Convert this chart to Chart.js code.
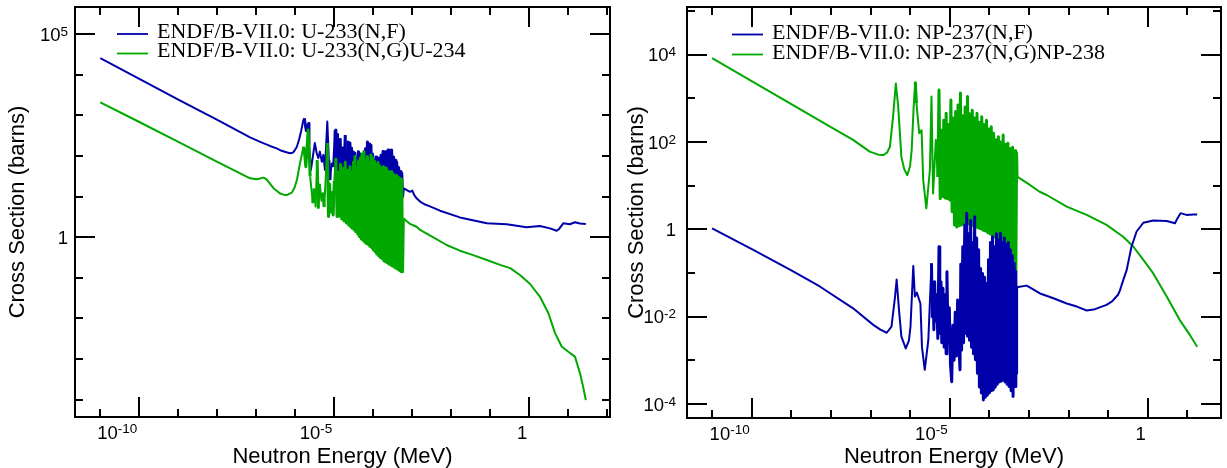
<!DOCTYPE html>
<html>
<head>
<meta charset="utf-8">
<script src="https://cdn.jsdelivr.net/npm/chart.js@4.4.1/dist/chart.umd.min.js"></script>
<style>
  html, body { margin: 0; padding: 0; background: #fff; }
  #wrap { position: relative; width: 1227px; height: 468px; }
  canvas { position: absolute; top: 0; }
</style>
</head>
<body>
<div id="wrap">
  <canvas id="u233" width="620" height="468" style="left:0"></canvas>
  <canvas id="np237" width="607" height="468" style="left:620px"></canvas>
</div>
<script>
// values, stored as [log10(E / MeV), log10(sigma / barns)]
const u233Fission = [
  [-11.00, 4.41], [-10.00, 3.90], [-9.00, 3.39], [-8.00, 2.89], [-7.16, 2.46], [-6.90, 2.35],
  [-6.65, 2.25], [-6.48, 2.19], [-6.35, 2.13], [-6.25, 2.10], [-6.14, 2.07], [-6.07, 2.08],
  [-6.03, 2.12], [-5.96, 2.23], [-5.90, 2.42],
  [-5.85, 2.62], [-5.80, 2.86], [-5.77, 2.93], [-5.74, 2.75], [-5.71, 2.60], [-5.69, 2.70],
  [-5.67, 2.81], [-5.65, 2.30], [-5.60, 1.66],
  [-5.50, 2.32], [-5.45, 2.07], [-5.41, 1.95], [-5.37, 2.11], [-5.32, 1.86], [-5.28, 2.03],
  [-5.24, 1.66], [-5.18, 2.85], [-5.14, 1.90], [-5.11, 1.41], [-5.07, 1.82], [-5.03, 1.75],
  [-4.98, 2.64], [-4.96, 1.58], [-4.92, 2.56], [-4.89, 1.49], [-4.85, 2.44], [-4.82, 1.41],
  [-4.78, 2.23], [-4.75, 1.45], [-4.72, 2.52], [-4.68, 1.40], [-4.65, 2.35], [-4.62, 1.38],
  [-4.60, 2.32], [-4.58, 1.35], [-4.56, 2.20], [-4.54, 1.38], [-4.51, 2.10], [-4.49, 1.30],
  [-4.47, 2.07], [-4.45, 1.36], [-4.42, 1.95], [-4.40, 1.28], [-4.38, 2.11], [-4.36, 1.34],
  [-4.33, 2.05], [-4.31, 1.27], [-4.29, 1.92], [-4.27, 1.33], [-4.24, 1.99], [-4.22, 1.25],
  [-4.20, 2.18], [-4.18, 1.31], [-4.15, 2.35], [-4.13, 1.22], [-4.11, 2.30], [-4.09, 1.29],
  [-4.06, 2.27], [-4.04, 1.20], [-4.02, 2.05], [-4.00, 1.26], [-3.97, 1.90], [-3.95, 1.18],
  [-3.93, 1.98], [-3.91, 1.24], [-3.88, 1.90], [-3.86, 1.15], [-3.84, 1.95], [-3.82, 1.22],
  [-3.80, 2.02], [-3.77, 1.13], [-3.75, 2.11], [-3.73, 1.19], [-3.71, 2.08], [-3.69, 1.10],
  [-3.66, 2.11], [-3.64, 1.17], [-3.62, 2.15], [-3.60, 1.08], [-3.57, 2.04], [-3.55, 1.14],
  [-3.53, 2.15], [-3.51, 1.06], [-3.48, 1.98], [-3.46, 1.12], [-3.44, 1.90], [-3.42, 1.04],
  [-3.40, 1.85], [-3.37, 1.09], [-3.35, 1.72], [-3.33, 1.02], [-3.31, 1.62], [-3.29, 1.06],
  [-3.27, 1.58], [-3.25, 1.00], [-3.23, 1.21],
  [-3.15, 1.17], [-3.06, 1.12], [-3.00, 1.15], [-2.95, 1.04], [-2.89, 0.96], [-2.80, 0.88],
  [-2.70, 0.82], [-2.55, 0.76], [-2.29, 0.655], [-1.78, 0.49], [-1.09, 0.345], [-0.58, 0.32],
  [-0.07, 0.25], [0.27, 0.28], [0.53, 0.22], [0.70, 0.16], [0.76, 0.20], [0.87, 0.345],
  [1.04, 0.32], [1.17, 0.37], [1.30, 0.34], [1.45, 0.33]
];

const u233Capture = [
  [-11.00, 3.325], [-10.00, 2.84], [-9.00, 2.35], [-8.00, 1.86], [-7.16, 1.453], [-6.99, 1.43],
  [-6.90, 1.45], [-6.82, 1.47], [-6.75, 1.44], [-6.69, 1.37], [-6.56, 1.21], [-6.39, 1.08],
  [-6.30, 1.05], [-6.22, 1.04], [-6.09, 1.10], [-6.02, 1.22], [-5.96, 1.41], [-5.88, 1.82],
  [-5.79, 2.23], [-5.76, 2.05],
  [-5.73, 1.74], [-5.70, 2.20], [-5.67, 2.64], [-5.64, 2.00], [-5.62, 1.50], [-5.55, 0.84],
  [-5.52, 1.20], [-5.48, 0.76], [-5.44, 1.90], [-5.41, 0.71], [-5.37, 1.30], [-5.33, 0.90],
  [-5.29, 1.10], [-5.26, 0.75], [-5.22, 1.45], [-5.18, 2.32], [-5.15, 0.51], [-5.12, 1.31],
  [-5.09, 0.62], [-5.06, 1.10], [-5.03, 0.55], [-5.00, 1.40], [-4.96, 1.95], [-4.93, 0.51],
  [-4.90, 1.60], [-4.87, 0.52], [-4.84, 1.80], [-4.81, 0.45], [-4.78, 1.70], [-4.75, 0.40],
  [-4.72, 1.85], [-4.69, 0.35], [-4.66, 1.65], [-4.63, 0.30],
  [-4.60, 1.74], [-4.58, 0.26], [-4.56, 1.60], [-4.54, 0.22], [-4.51, 1.85], [-4.49, 0.18],
  [-4.47, 1.99], [-4.45, 0.14], [-4.42, 1.70], [-4.40, 0.08], [-4.38, 1.88], [-4.36, 0.02],
  [-4.33, 1.95], [-4.31, -0.04], [-4.29, 2.05], [-4.27, -0.07], [-4.24, 2.11], [-4.22, -0.12],
  [-4.20, 1.90], [-4.18, -0.15], [-4.15, 1.99], [-4.13, -0.18], [-4.11, 1.85], [-4.09, -0.22],
  [-4.06, 2.03], [-4.04, -0.26], [-4.02, 1.95], [-4.00, -0.31], [-3.97, 1.88], [-3.95, -0.36],
  [-3.93, 1.80], [-3.91, -0.41], [-3.88, 1.84], [-3.86, -0.46], [-3.84, 1.76], [-3.82, -0.50],
  [-3.80, 1.70], [-3.77, -0.53], [-3.75, 1.74], [-3.73, -0.58], [-3.71, 1.66], [-3.69, -0.60],
  [-3.66, 1.70], [-3.64, -0.63], [-3.62, 1.62], [-3.60, -0.66], [-3.57, 1.58], [-3.55, -0.68],
  [-3.53, 1.62], [-3.51, -0.71], [-3.48, 1.55], [-3.46, -0.74], [-3.44, 1.50], [-3.42, -0.76],
  [-3.40, 1.53], [-3.37, -0.79], [-3.35, 1.47], [-3.33, -0.82], [-3.31, 1.44], [-3.29, -0.84],
  [-3.27, 1.42], [-3.25, -0.85], [-3.23, 0.47],
  [-3.15, 0.40], [-3.06, 0.33], [-2.89, 0.26], [-2.80, 0.18], [-2.46, 0.00], [-2.12, -0.19],
  [-1.78, -0.33], [-1.44, -0.44], [-1.09, -0.56], [-0.75, -0.68], [-0.49, -0.76], [-0.24, -0.93],
  [0.02, -1.15], [0.27, -1.46], [0.49, -1.87], [0.66, -2.36], [0.83, -2.69], [1.00, -2.82],
  [1.17, -2.94], [1.30, -3.35], [1.38, -3.68], [1.45, -4.01]
];

const np237Fission = [
  [-11.00, 0.02], [-9.96, -0.47], [-9.00, -0.94], [-8.28, -1.31], [-7.44, -1.81], [-6.93, -2.19],
  [-6.75, -2.30], [-6.59, -2.37], [-6.47, -2.23], [-6.38, -1.54], [-6.34, -1.15], [-6.28, -1.85],
  [-6.22, -2.46], [-6.11, -2.73], [-6.03, -2.55], [-5.99, -2.23], [-5.92, -0.84], [-5.88, -1.54],
  [-5.83, -1.45], [-5.74, -1.70], [-5.70, -2.70], [-5.63, -3.22], [-5.54, -2.54],
  [-5.46, -0.78], [-5.44, -2.00], [-5.42, -1.30], [-5.40, -2.30], [-5.38, -1.20], [-5.36, -2.10],
  [-5.33, -1.50], [-5.30, -2.50], [-5.27, -0.40], [-5.25, -2.38], [-5.22, -1.20], [-5.20, -2.60],
  [-5.17, -1.35], [-5.14, -2.70], [-5.11, -1.50], [-5.09, -2.85], [-5.07, -0.97], [-5.04, -2.60],
  [-5.01, -1.80], [-4.98, -3.10], [-4.95, -3.49], [-4.92, -2.20], [-4.89, -3.00], [-4.86, -1.90],
  [-4.83, -2.90], [-4.80, -1.62], [-4.77, -2.60], [-4.74, -3.22],
  [-4.72, -0.80], [-4.70, -2.77], [-4.67, -0.40], [-4.65, -2.60], [-4.62, 0.10], [-4.60, -2.38],
  [-4.57, 0.37], [-4.55, -2.45], [-4.52, -0.10], [-4.50, -2.54], [-4.47, 0.20], [-4.45, -2.70],
  [-4.42, -0.30], [-4.40, -2.85], [-4.37, 0.29], [-4.35, -2.99], [-4.32, -0.20], [-4.30, -3.30],
  [-4.27, -0.47], [-4.25, -3.61], [-4.22, -0.90], [-4.20, -3.75], [-4.17, -1.01], [-4.15, -3.91],
  [-4.12, -1.10], [-4.10, -3.85], [-4.07, -1.24], [-4.05, -3.80], [-4.02, -0.70], [-4.00, -3.75],
  [-3.97, -0.30], [-3.95, -3.70], [-3.92, -0.17], [-3.90, -3.68], [-3.87, -0.40], [-3.85, -3.62],
  [-3.82, -0.10], [-3.80, -3.55], [-3.77, -0.25], [-3.75, -3.50], [-3.72, -0.09], [-3.70, -3.48],
  [-3.67, -0.30], [-3.65, -3.45], [-3.62, -0.20], [-3.60, -3.50], [-3.57, -0.35], [-3.55, -3.55],
  [-3.52, -0.30], [-3.50, -3.60], [-3.47, -0.47], [-3.45, -3.70], [-3.42, -0.60], [-3.40, -3.83],
  [-3.37, -0.78], [-3.35, -3.60], [-3.33, -0.97], [-3.32, -3.30], [-3.31, -1.33],
  [-3.06, -1.29], [-3.00, -1.32], [-2.72, -1.47], [-2.38, -1.58], [-2.045, -1.70], [-1.79, -1.77],
  [-1.54, -1.86], [-1.33, -1.83], [-1.04, -1.73], [-0.90, -1.65], [-0.83, -1.58], [-0.75, -1.50],
  [-0.70, -1.40], [-0.66, -1.28], [-0.53, -0.93], [-0.41, -0.40], [-0.28, -0.05], [-0.11, 0.15],
  [0.14, 0.20], [0.48, 0.19], [0.69, 0.14], [0.75, 0.25], [0.83, 0.37], [0.98, 0.33],
  [1.15, 0.34], [1.25, 0.34]
];

const np237Capture = [
  [-11.00, 3.92], [-10.00, 3.395], [-9.00, 2.87], [-8.00, 2.34], [-7.44, 2.05], [-7.02, 1.78],
  [-6.80, 1.71], [-6.68, 1.70], [-6.58, 1.76], [-6.51, 1.89], [-6.43, 2.58], [-6.36, 3.34],
  [-6.30, 2.81], [-6.22, 1.66], [-6.15, 1.38], [-6.07, 1.24], [-6.00, 1.45], [-5.96, 1.82],
  [-5.91, 2.81], [-5.87, 3.38], [-5.84, 2.89], [-5.77, 2.20], [-5.71, 2.27], [-5.67, 1.13],
  [-5.59, 0.48], [-5.50, 1.36], [-5.46, 3.04], [-5.42, 0.82], [-5.35, 2.05], [-5.30, 1.20],
  [-5.27, 3.19], [-5.24, 0.70],
  [-5.21, 2.27], [-5.18, 0.75], [-5.15, 2.50], [-5.12, 0.72], [-5.09, 2.66], [-5.06, 0.70],
  [-5.03, 2.40], [-5.00, 0.67], [-4.97, 2.96], [-4.94, 0.40], [-4.91, 2.55], [-4.88, 0.10],
  [-4.85, 2.70], [-4.82, 0.05], [-4.79, 2.85], [-4.76, 0.08], [-4.73, 3.12], [-4.70, 0.10],
  [-4.67, 2.60], [-4.64, 0.12], [-4.61, 2.80], [-4.58, 0.14], [-4.55, 3.04], [-4.52, 0.12],
  [-4.49, 2.65], [-4.46, 0.10], [-4.43, 2.73], [-4.40, 0.08], [-4.37, 2.55], [-4.34, 0.05],
  [-4.31, 2.66], [-4.28, 0.03], [-4.25, 2.45], [-4.22, 0.01], [-4.19, 2.58], [-4.16, -0.02],
  [-4.13, 2.40], [-4.10, -0.04], [-4.07, 2.50], [-4.04, -0.08], [-4.01, 2.30], [-3.98, -0.11],
  [-3.95, 2.35], [-3.92, -0.15], [-3.89, 2.20], [-3.86, -0.18], [-3.83, 2.05], [-3.80, -0.20],
  [-3.77, 2.12], [-3.74, -0.25], [-3.71, 2.00], [-3.68, -0.28], [-3.65, 2.16], [-3.62, -0.31],
  [-3.59, 1.95], [-3.56, -0.36], [-3.53, 1.97], [-3.50, -0.45], [-3.47, 1.85], [-3.44, -0.59],
  [-3.41, 1.88], [-3.38, -0.70], [-3.35, 1.80], [-3.33, -0.97], [-3.31, 1.74], [-3.30, 1.205],
  [-3.06, 1.07], [-2.73, 0.86], [-2.55, 0.786], [-2.045, 0.52], [-1.54, 0.33], [-1.04, 0.10],
  [-0.62, -0.17], [-0.36, -0.40], [-0.11, -0.70], [0.14, -1.01], [0.48, -1.54], [0.81, -2.08],
  [1.065, -2.42], [1.25, -2.69]
];

// axis ranges (log10) and labelled decades
const u233XRange = [-11.649, 2.069];
const u233YRange = [-4.426, 5.672];
const np237XRange = [-11.634, 1.851];
const np237YRange = [-4.323, 5.093];
const xMajorExps = [-10, -5, 0];
const u233YMajorExps = [5, 0];
const np237YMajorExps = [4, 2, 0, -2, -4];

const BLUE = "#0000aa";
const GREEN = "#00a800";
const SANS = '"Liberation Sans", Arial, Helvetica, sans-serif';
const SERIF = '"Liberation Serif", "Times New Roman", Times, serif';

const toPoints = (pairs) => pairs.map(([e, s]) => ({ x: 10 ** e, y: 10 ** s }));

// unresolved-resonance fuzz: tightly packed steep segments get a heavier pen
const denseWidth = (ctx) => {
  const dx = Math.abs(ctx.p1.x - ctx.p0.x);
  const dy = Math.abs(ctx.p1.y - ctx.p0.y);
  return dx < 1.4 && dy > 6 ? 3 : 2;
};

function drawPow(ctx, k, right, baseline, raise) {
  const base = k === 0 ? "1" : "10";
  const sup = k === 0 ? "" : String(k);
  ctx.font = "18.5px " + SANS;
  const wb = ctx.measureText(base).width;
  ctx.font = "13.5px " + SANS;
  const ws = sup ? ctx.measureText(sup).width : 0;
  const x0 = right - wb - ws;
  ctx.font = "18.5px " + SANS;
  ctx.fillText(base, x0, baseline);
  if (sup) {
    ctx.font = "13.5px " + SANS;
    ctx.fillText(sup, x0 + wb, baseline - raise);
  }
}

// Grace-style frame: box, inward ticks on all sides, power-of-ten labels, titles, legend
const gracePlot = {
  id: "gracePlot",
  afterDatasetsDraw(chart, args, opts) {
    const { ctx, chartArea: a } = chart;
    const xs = chart.scales.x, ys = chart.scales.y;
    ctx.save();
    ctx.strokeStyle = "#000";
    ctx.fillStyle = "#000";
    ctx.lineWidth = 2;
    ctx.strokeRect(a.left, a.top, a.right - a.left, a.bottom - a.top);

    ctx.beginPath();
    for (let k = Math.ceil(opts.xRange[0]); k <= opts.xRange[1]; k++) {
      const px = Math.round(xs.getPixelForValue(10 ** k));
      const len = opts.xMajor.includes(k) ? 20 : 8;
      ctx.moveTo(px, a.bottom); ctx.lineTo(px, a.bottom - len);
      ctx.moveTo(px, a.top); ctx.lineTo(px, a.top + len);
    }
    for (let k = Math.ceil(opts.yRange[0]); k <= opts.yRange[1]; k++) {
      const py = Math.round(ys.getPixelForValue(10 ** k));
      const len = opts.yMajor.includes(k) ? 20 : 8;
      ctx.moveTo(a.left, py); ctx.lineTo(a.left + len, py);
      ctx.moveTo(a.right, py); ctx.lineTo(a.right - len, py);
    }
    ctx.stroke();

    ctx.textBaseline = "alphabetic";
    ctx.textAlign = "left";
    for (const k of opts.xMajor) {
      drawPow(ctx, k, xs.getPixelForValue(10 ** k) - 2, a.bottom + 22, 6);
    }
    for (const k of opts.yMajor) {
      drawPow(ctx, k, a.left - opts.yLabelGap, ys.getPixelForValue(10 ** k) + 6.7, 5);
    }

    ctx.font = "22px " + SANS;
    ctx.textAlign = "center";
    ctx.fillText("Neutron Energy (MeV)", (a.left + a.right) / 2, 463);
    ctx.save();
    ctx.translate(opts.yTitleX, (a.top + a.bottom) / 2);
    ctx.rotate(-Math.PI / 2);
    ctx.fillText("Cross Section (barns)", 0, 0);
    ctx.restore();

    ctx.textAlign = "left";
    ctx.font = "22px " + SERIF;
    ctx.lineWidth = 1.8;
    chart.data.datasets.forEach((ds, i) => {
      const ly = opts.legendY[i];
      ctx.strokeStyle = ds.borderColor;
      ctx.beginPath();
      ctx.moveTo(opts.legendX[0], ly);
      ctx.lineTo(opts.legendX[1], ly);
      ctx.stroke();
      ctx.fillText(ds.label, opts.legendX[2], ly + opts.legendTextDy);
    });
    ctx.restore();
  }
};

function makeChart(id, cfg) {
  return new Chart(document.getElementById(id), {
    type: "line",
    data: {
      datasets: cfg.series.map((s) => ({
        label: s.label,
        data: toPoints(s.points),
        borderColor: s.color,
        borderWidth: 2,
        borderJoinStyle: "round",
        segment: { borderWidth: denseWidth },
        pointRadius: 0,
        fill: false,
        tension: 0,
        order: s.order
      }))
    },
    options: {
      responsive: false,
      animation: false,
      devicePixelRatio: 1,
      layout: { padding: cfg.padding },
      plugins: {
        legend: { display: false },
        tooltip: { enabled: false },
        gracePlot: cfg.frame
      },
      scales: {
        x: {
          type: "logarithmic",
          min: 10 ** cfg.frame.xRange[0],
          max: 10 ** cfg.frame.xRange[1],
          grid: { display: false },
          border: { display: false },
          ticks: { display: false },
          afterFit: (s) => { s.height = cfg.xAxisHeight; }
        },
        y: {
          type: "logarithmic",
          min: 10 ** cfg.frame.yRange[0],
          max: 10 ** cfg.frame.yRange[1],
          grid: { display: false },
          border: { display: false },
          ticks: { display: false },
          afterFit: (s) => { s.width = cfg.yAxisWidth; }
        }
      }
    },
    plugins: [gracePlot]
  });
}

makeChart("u233", {
  series: [
    { label: "ENDF/B-VII.0: U-233(N,F)", points: u233Fission, color: BLUE, order: 1 },
    { label: "ENDF/B-VII.0: U-233(N,G)U-234", points: u233Capture, color: GREEN, order: 0 }
  ],
  padding: { left: 0, top: 7, right: 10, bottom: 0 },
  xAxisHeight: 51,
  yAxisWidth: 75,
  frame: {
    xRange: u233XRange, yRange: u233YRange,
    xMajor: xMajorExps, yMajor: u233YMajorExps,
    yLabelGap: 7, yTitleX: 24,
    legendX: [117, 148, 157], legendY: [34, 53.5], legendTextDy: 3.6
  }
});

makeChart("np237", {
  series: [
    { label: "ENDF/B-VII.0: NP-237(N,F)", points: np237Fission, color: BLUE, order: 0 },
    { label: "ENDF/B-VII.0: NP-237(N,G)NP-238", points: np237Capture, color: GREEN, order: 1 }
  ],
  padding: { left: 0, top: 7, right: 6, bottom: 0 },
  xAxisHeight: 50,
  yAxisWidth: 67,
  frame: {
    xRange: np237XRange, yRange: np237YRange,
    xMajor: xMajorExps, yMajor: np237YMajorExps,
    yLabelGap: 11, yTitleX: 23,
    legendX: [112, 143, 152], legendY: [34.5, 54.5], legendTextDy: 4.8
  }
});
</script>
</body>
</html>
